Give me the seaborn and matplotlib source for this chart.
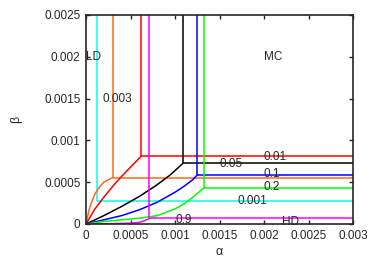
import numpy as np
import pandas as pd
import matplotlib
matplotlib.use("Agg")
import matplotlib.pyplot as plt
import seaborn as sns

# parametros de cada familia: valor, cor, canto (alpha_c, beta_c)
params = ["0.001", "0.003", "0.01", "0.05", "0.1", "0.2", "0.9"]
cores = ["#00ffff", "#ff6a1a", "#ff0000", "#000000", "#0000ff", "#00ff00", "#ff00ff"]
alpha_c = [0.00012, 0.0003, 0.00062, 0.00109, 0.00125, 0.00133, 0.00071]
beta_c = [0.000275, 0.000554, 0.00081, 0.000726, 0.000586, 0.000434, 0.000068]

# curvas da origem ate o canto
curvas = {
    "0.003": ([0, 0.00002, 0.00004, 0.00007, 0.0001, 0.00015, 0.0002, 0.00025, 0.0003],
              [0, 0.0001, 0.00019, 0.00028, 0.00036, 0.00044, 0.0005, 0.00053, 0.000554]),
    "0.01": ([0, 0.0001, 0.0002, 0.0003, 0.0004, 0.0005, 0.00062],
             [0, 0.00018, 0.00032, 0.00045, 0.00057, 0.00068, 0.00081]),
    "0.05": ([0, 0.0002, 0.0004, 0.0006, 0.0008, 0.00095, 0.00109],
             [0, 0.0001, 0.00021, 0.00033, 0.00047, 0.00059, 0.000726]),
    "0.1": ([0, 0.0002, 0.0004, 0.0006, 0.0008, 0.001, 0.0011, 0.0012, 0.00125],
            [0, 0.00005, 0.0001, 0.00017, 0.00026, 0.00038, 0.00045, 0.00053, 0.000586]),
    "0.2": ([0, 0.0002, 0.0004, 0.0006, 0.0008, 0.001, 0.0011, 0.0012, 0.0013, 0.00133],
            [0, 0.00003, 0.00005, 0.00007, 0.0001, 0.00018, 0.00024, 0.00032, 0.00041, 0.000434]),
    "0.9": ([0, 0.0003, 0.0005, 0.0006, 0.00066, 0.0007, 0.00071],
            [0, 0.000005, 0.00001, 0.00002, 0.00004, 0.00006, 0.000068]),
}

# rotulos no grafico
rotulos = ["LD", "MC", "0.003", "0.05", "0.01", "0.1", "0.2", "0.001", "0.9", "HD"]
rot_x = [0.0, 0.002, 0.00018, 0.0015, 0.002, 0.002, 0.002, 0.0017, 0.001, 0.0022]
rot_y = [0.002, 0.002, 0.0015, 0.00072, 0.0008, 0.0006, 0.00044, 0.00027, 0.00005, 0.00002]

x_max, y_max = 0.003, 0.0025
xticks = [0, 0.0005, 0.001, 0.0015, 0.002, 0.0025, 0.003]
xticklabels = ["0", "0.0005", "0.001", "0.0015", "0.002", "0.0025", "0.003"]
yticks = [0, 0.0005, 0.001, 0.0015, 0.002, 0.0025]
yticklabels = ["0", "0.0005", "0.001", "0.0015", "0.002", "0.0025"]

sns.set_style("ticks")
plt.rcParams["font.family"] = ["Liberation Sans", "DejaVu Sans"]

fig = plt.figure(figsize=(3.74, 2.62), dpi=100)
ax = fig.add_axes([86 / 374, 1 - 224 / 262, 267 / 374, 209 / 262])

lw = 1.1
for p, cor, ac, bc in zip(params, cores, alpha_c, beta_c):
    ax.vlines(ac, bc, y_max, color=cor, lw=lw)
    ax.hlines(bc, ac, x_max, color=cor, lw=lw)
    if p in curvas:
        cx, cy = curvas[p]
        df = pd.DataFrame({"a": cx, "b": cy})
        sns.lineplot(data=df, x="a", y="b", color=cor, lw=lw, sort=False, ax=ax,
                     estimator=None)

for t, x, y in zip(rotulos, rot_x, rot_y):
    ax.text(x, y, t, ha="left", va="center", fontsize=8.5)

ax.set_xlim(0, x_max)
ax.set_ylim(0, y_max)
ax.set_xticks(xticks)
ax.set_xticklabels(xticklabels)
ax.set_yticks(yticks)
ax.set_yticklabels(yticklabels)
ax.tick_params(direction="in", top=True, right=True, length=3, width=1,
               labelsize=8.5, pad=4)
for s in ax.spines.values():
    s.set_linewidth(1.2)
ax.set_xlabel("α", fontsize=9, labelpad=3)
ax.set_ylabel("β", fontsize=9, labelpad=16)

fig.savefig("out.png", dpi=100)
